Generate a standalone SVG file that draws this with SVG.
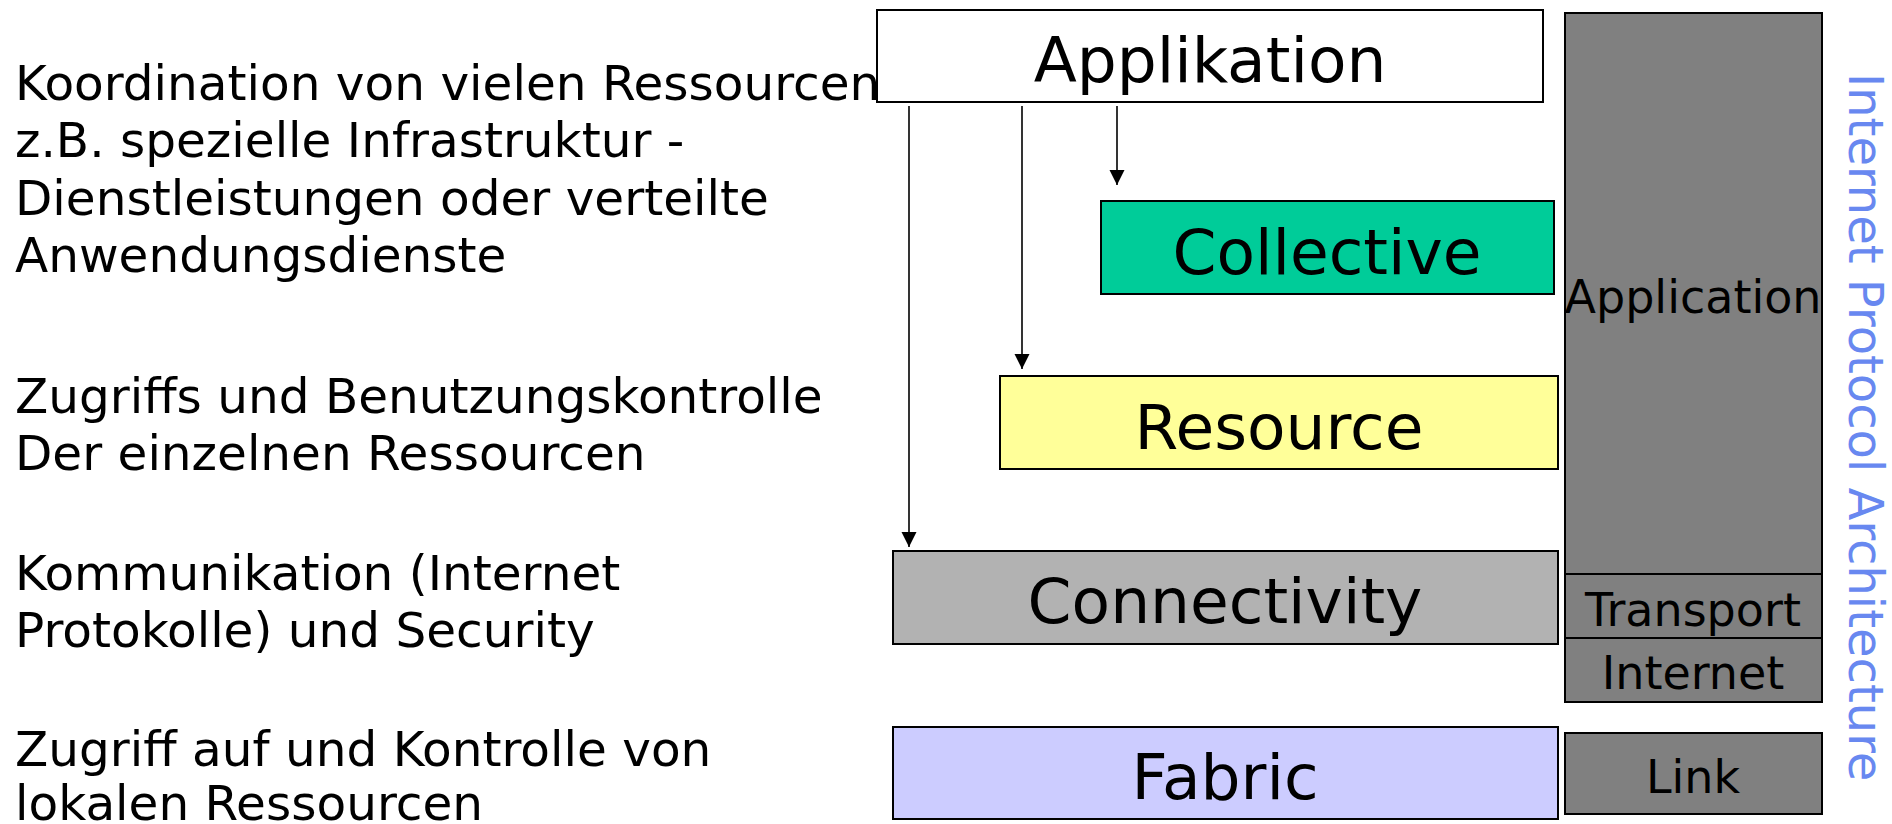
<svg xmlns="http://www.w3.org/2000/svg" width="1892" height="824" viewBox="0 0 1892 824">
  <style>
    .box { stroke: #000; stroke-width: 2; }
    .lbl { font-family: "DejaVu Sans", Verdana, sans-serif; font-size: 63px; fill: #000; text-anchor: middle; }
    .ip { font-family: "DejaVu Sans", Verdana, sans-serif; font-size: 46px; fill: #000; text-anchor: middle; }
    .desc { font-family: "DejaVu Sans", Verdana, sans-serif; font-size: 48.5px; fill: #000; }
    .side { font-family: "DejaVu Sans", Verdana, sans-serif; font-size: 48px; fill: #6888f0; }
    .conn { stroke: #000; stroke-width: 1.6; fill: none; }
  </style>
  <defs>
    <marker id="arrow" markerUnits="userSpaceOnUse" markerWidth="16" markerHeight="16" refX="15" refY="7.5" orient="auto">
      <path d="M0,0 L15,7.5 L0,15 Z" fill="#000"/>
    </marker>
  </defs>
  <rect width="1892" height="824" fill="#fff"/>

  <!-- descriptions on the left -->
  <g id="desc-collective">
    <text class="desc" x="15" y="100">Koordination von vielen Ressourcen</text>
    <text class="desc" x="15" y="157">z.B. spezielle Infrastruktur -</text>
    <text class="desc" x="15" y="215">Dienstleistungen oder verteilte</text>
    <text class="desc" x="15" y="272">Anwendungsdienste</text>
  </g>
  <g id="desc-resource">
    <text class="desc" x="15" y="413">Zugriffs und Benutzungskontrolle</text>
    <text class="desc" x="15" y="470">Der einzelnen Ressourcen</text>
  </g>
  <g id="desc-connectivity">
    <text class="desc" x="15" y="590">Kommunikation (Internet</text>
    <text class="desc" x="15" y="647">Protokolle) und Security</text>
  </g>
  <g id="desc-fabric">
    <text class="desc" x="15" y="766">Zugriff auf und Kontrolle von</text>
    <text class="desc" x="15" y="820">lokalen Ressourcen</text>
  </g>

  <!-- grid layers -->
  <g id="applikation">
    <rect class="box" x="877" y="10" width="666" height="92" fill="#fff"/>
    <text class="lbl" x="1210" y="82">Applikation</text>
  </g>
  <g id="collective">
    <rect class="box" x="1101" y="201" width="453" height="93" fill="#00cc99"/>
    <text class="lbl" x="1327" y="274">Collective</text>
  </g>
  <g id="resource">
    <rect class="box" x="1000" y="376" width="558" height="93" fill="#ffff99"/>
    <text class="lbl" x="1279" y="449">Resource</text>
  </g>
  <g id="connectivity">
    <rect class="box" x="893" y="551" width="665" height="93" fill="#b2b2b2"/>
    <text class="lbl" x="1225" y="623">Connectivity</text>
  </g>
  <g id="fabric">
    <rect class="box" x="893" y="727" width="665" height="92" fill="#ccccff"/>
    <text class="lbl" x="1225" y="799">Fabric</text>
  </g>

  <!-- internet protocol stack -->
  <g id="ip-application">
    <rect class="box" x="1565" y="13" width="257" height="561" fill="#808080"/>
    <text class="ip" x="1693" y="313">Application</text>
  </g>
  <g id="ip-transport">
    <rect class="box" x="1565" y="574" width="257" height="64" fill="#808080"/>
    <text class="ip" x="1693" y="626">Transport</text>
  </g>
  <g id="ip-internet">
    <rect class="box" x="1565" y="638" width="257" height="64" fill="#808080"/>
    <text class="ip" x="1693" y="689">Internet</text>
  </g>
  <g id="ip-link">
    <rect class="box" x="1565" y="733" width="257" height="81" fill="#808080"/>
    <text class="ip" x="1693" y="793">Link</text>
  </g>
  <g id="ip-title">
    <text class="side" transform="translate(1849,73) rotate(90)">Internet Protocol Architecture</text>
  </g>

  <!-- connectors from the application down to the layers -->
  <g id="connectors">
    <line class="conn" x1="909" y1="106" x2="909" y2="547" marker-end="url(#arrow)"/>
    <line class="conn" x1="1022" y1="106" x2="1022" y2="369" marker-end="url(#arrow)"/>
    <line class="conn" x1="1117" y1="106" x2="1117" y2="185" marker-end="url(#arrow)"/>
  </g>
</svg>
